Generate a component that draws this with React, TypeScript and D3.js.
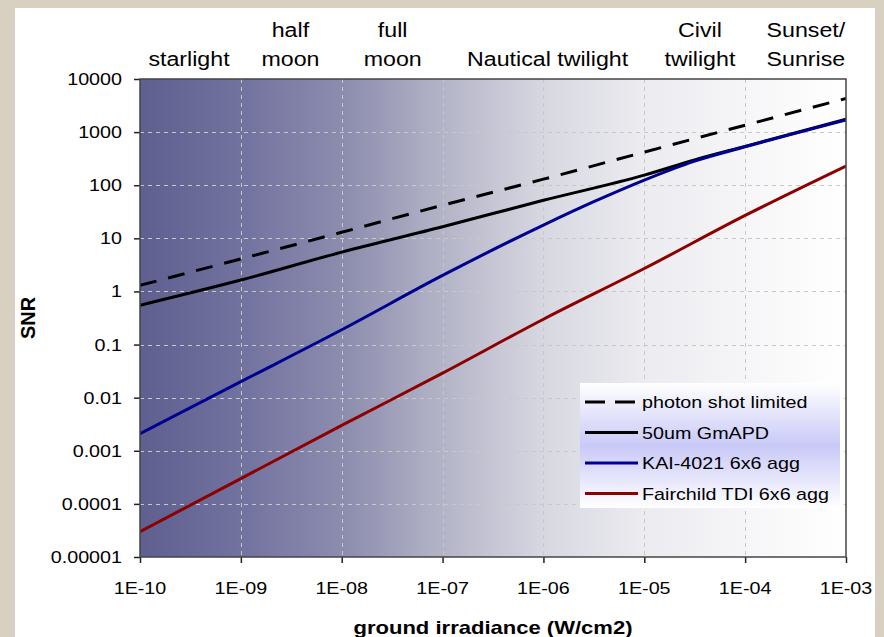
import { useRef, useEffect } from 'react';
import * as d3 from 'd3';

const W = 884;
const H = 637;
const PLOT = { left: 140, top: 79, right: 846, bottom: 557 };
// the source picture is a bit wider than tall, so text is drawn slightly stretched
const SX = 1.16;

const xTicks = [1e-10, 1e-9, 1e-8, 1e-7, 1e-6, 1e-5, 1e-4, 1e-3];
const xTickLabels = ['1E-10', '1E-09', '1E-08', '1E-07', '1E-06', '1E-05', '1E-04', '1E-03'];
const yTicks = [1e-5, 1e-4, 1e-3, 1e-2, 1e-1, 1, 10, 100, 1000, 10000];
const yTickLabels = ['0.00001', '0.0001', '0.001', '0.01', '0.1', '1', '10', '100', '1000', '10000'];

// lighting regimes written above the plot
const regimes = [
  { x: 3.06e-10, lines: ['starlight'] },
  { x: 3.1e-9, lines: ['half', 'moon'] },
  { x: 3.2e-8, lines: ['full', 'moon'] },
  { x: 1.1e-6, lines: ['Nautical twilight'] },
  { x: 3.56e-5, lines: ['Civil', 'twilight'] },
  { x: 4.0e-4, lines: ['Sunset/', 'Sunrise'] },
];

const shotIrr = [1e-10, 1e-9, 1e-8, 1e-7, 1e-6, 1e-5, 1e-4, 1e-3];
const shotSNR = [1.3, 4.1, 13, 42, 130, 420, 1350, 4300];

const gmapdIrr = [1e-10, 1e-9, 1e-8, 1e-7, 1e-6, 1e-5, 3.16e-5, 1e-4, 1e-3];
const gmapdSNR = [0.55, 1.64, 5.5, 16.5, 52, 155, 300, 540, 1750];

const kaiIrr = [1e-10, 1e-9, 1e-8, 1e-7, 1e-6, 3.16e-6, 1e-5, 3.16e-5, 1e-4, 1e-3];
const kaiSNR = [0.0021, 0.02, 0.19, 2.0, 17.8, 49, 125, 285, 530, 1700];

const tdiIrr = [1e-10, 1e-9, 1e-8, 1e-7, 1e-6, 1e-5, 1e-4, 1e-3];
const tdiSNR = [3e-5, 3e-4, 3e-3, 0.029, 0.3, 2.7, 27, 230];

const series = [
  { label: 'photon shot limited', irr: shotIrr, snr: shotSNR, color: '#000000', dash: '17,12' },
  { label: '50um GmAPD', irr: gmapdIrr, snr: gmapdSNR, color: '#000000', dash: null },
  { label: 'KAI-4021 6x6 agg', irr: kaiIrr, snr: kaiSNR, color: '#000090', dash: null },
  { label: 'Fairchild TDI 6x6 agg', irr: tdiIrr, snr: tdiSNR, color: '#8c0000', dash: null },
];

const FONT = 'Arial, "Liberation Sans", sans-serif';

export default function App() {
  const svgRef = useRef<SVGSVGElement>(null);

  useEffect(() => {
    const svg = svgRef.current;
    if (!svg) return;
    const root = d3.select(svg);
    root.selectAll('*').remove();

    const x = d3.scaleLog().domain([1e-10, 1e-3]).range([PLOT.left, PLOT.right]);
    const y = d3.scaleLog().domain([1e-5, 1e4]).range([PLOT.bottom, PLOT.top]);
    const innerW = PLOT.right - PLOT.left;
    const innerH = PLOT.bottom - PLOT.top;

    const label = (parent: any, px: number, py: number, txt: string, size: number, anchor: string, bold = false) =>
      parent.append('text').attr('transform', `translate(${px},${py}) scale(${SX},1)`)
        .attr('text-anchor', anchor).attr('font-family', FONT).attr('font-size', `${size}px`)
        .attr('font-weight', bold ? 'bold' : 'normal').attr('fill', '#000').text(txt);

    const defs = root.append('defs');
    const bg = defs.append('linearGradient').attr('id', 'plotbg').attr('x1', '0').attr('x2', '1').attr('y1', '0').attr('y2', '0');
    [
      [0, '#5f5f90'], [0.15, '#7373a0'], [0.3, '#8f8fb0'], [0.43, '#b4b4c8'],
      [0.57, '#d7d7e1'], [0.71, '#ebebf0'], [0.86, '#f6f6f8'], [1, '#ffffff'],
    ].forEach(([o, c]) => bg.append('stop').attr('offset', o as number).attr('stop-color', c as string));

    const lg = defs.append('linearGradient').attr('id', 'legbg').attr('x1', '0').attr('x2', '0').attr('y1', '0').attr('y2', '1');
    [[0, '#ffffff'], [0.5, '#c9c9f7'], [1, '#ffffff']].forEach(([o, c]) =>
      lg.append('stop').attr('offset', o as number).attr('stop-color', c as string));

    // page backdrop + white panel
    root.append('rect').attr('width', W).attr('height', H).attr('fill', '#d8d1c2');
    root.append('rect').attr('x', 15).attr('y', 8).attr('width', 860).attr('height', H - 8).attr('fill', '#ffffff');

    // plot area
    root.append('rect').attr('x', PLOT.left).attr('y', PLOT.top).attr('width', innerW).attr('height', innerH)
      .attr('fill', 'url(#plotbg)');

    // grid
    const grid = root.append('g').attr('stroke', '#c8c8c4').attr('stroke-width', 1).attr('stroke-dasharray', '4,4');
    xTicks.slice(1, -1).forEach(t => {
      grid.append('line').attr('x1', Math.round(x(t)) + 0.5).attr('x2', Math.round(x(t)) + 0.5)
        .attr('y1', PLOT.top).attr('y2', PLOT.bottom);
    });
    yTicks.slice(1, -1).forEach(t => {
      grid.append('line').attr('x1', PLOT.left).attr('x2', PLOT.right)
        .attr('y1', Math.round(y(t)) + 0.5).attr('y2', Math.round(y(t)) + 0.5);
    });

    // axes: tick marks from d3, labels drawn stretched
    const xG = root.append('g').attr('transform', `translate(0,${PLOT.bottom})`)
      .call(d3.axisBottom(x).tickValues(xTicks).tickSize(6).tickFormat(() => ''));
    xG.select('.domain').remove();
    xG.selectAll('line').attr('stroke', '#222').attr('stroke-width', 1.5);
    xTicks.forEach((t, i) => label(root, x(t), 594, xTickLabels[i], 17, 'middle'));

    const yG = root.append('g').attr('transform', `translate(${PLOT.left},0)`)
      .call(d3.axisLeft(y).tickValues(yTicks).tickSize(6).tickFormat(() => ''));
    yG.select('.domain').remove();
    yG.selectAll('line').attr('stroke', '#222').attr('stroke-width', 1.5);
    yTicks.forEach((t, i) => label(root, 122, y(t) + 6, yTickLabels[i], 17, 'end'));

    // series
    const clip = defs.append('clipPath').attr('id', 'plotclip');
    clip.append('rect').attr('x', PLOT.left).attr('y', PLOT.top).attr('width', innerW).attr('height', innerH);
    const lines = root.append('g').attr('clip-path', 'url(#plotclip)');
    series.forEach(s => {
      const pts = s.irr.map((e, i) => [x(e), y(s.snr[i])] as [number, number]);
      const path = d3.line().curve(d3.curveMonotoneX)(pts);
      lines.append('path').attr('d', path).attr('fill', 'none').attr('stroke', s.color)
        .attr('stroke-width', 3).attr('stroke-dasharray', s.dash ?? null);
    });

    // plot frame
    root.append('rect').attr('x', PLOT.left).attr('y', PLOT.top).attr('width', innerW).attr('height', innerH)
      .attr('fill', 'none').attr('stroke', '#444').attr('stroke-width', 1.5);

    // regime labels
    regimes.forEach(r => {
      r.lines.forEach((ln, i) => {
        const base = r.lines.length === 1 ? 66 : 37 + i * 29;
        label(root, x(r.x), base, ln, 20, 'middle');
      });
    });

    // legend
    const leg = root.append('g').attr('transform', 'translate(580,383)');
    leg.append('rect').attr('width', 260).attr('height', 125).attr('fill', 'url(#legbg)');
    series.forEach((s, i) => {
      const ly = 19 + i * 30.5;
      leg.append('line').attr('x1', 5).attr('x2', 58).attr('y1', ly).attr('y2', ly)
        .attr('stroke', s.color).attr('stroke-width', 3).attr('stroke-dasharray', s.dash ? '20,10' : null);
      label(leg, 62, ly + 6, s.label, 17, 'start');
    });

    // axis titles
    root.append('text').attr('transform', `translate(35,318) rotate(-90)`).attr('text-anchor', 'middle')
      .attr('font-family', FONT).attr('font-size', '20px').attr('font-weight', 'bold').attr('fill', '#000').text('SNR');
    label(root, 493, 634, 'ground irradiance (W/cm2)', 19, 'middle', true);
  }, []);

  return (
    <svg ref={svgRef} width={W} height={H}
      style={{ position: 'absolute', left: 0, top: 0, display: 'block' }} />
  );
}
